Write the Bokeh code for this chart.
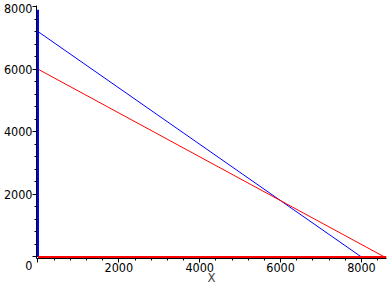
from bokeh.plotting import figure
from bokeh.models import Range1d, FixedTicker
from bokeh.embed import file_html
from bokeh.resources import INLINE

# data
blue_x = [0, 8000]
blue_y = [7200, 0]
red_x = [0, 8571]
red_y = [6000, 0]
blue_axis_x = [0, 0]
blue_axis_y = [0, 7900]
red_axis_x = [0, 8620]
red_axis_y = [0, 0]
x_ticks = [0, 2000, 4000, 6000, 8000]
y_ticks = [0, 2000, 4000, 6000, 8000]
minor = [v for v in range(400, 8800, 400) if v % 2000 != 0]
x_label = "X"

FONT = "'DejaVu Sans Condensed', sans-serif"
FS = "12.5px"

p = figure(width=388, height=288, output_backend="svg", toolbar_location=None,
           x_range=Range1d(-37, 8620), y_range=Range1d(-48, 8032),
           min_border_left=36, min_border_right=2, min_border_top=5, min_border_bottom=30)
p.outline_line_color = None
p.xgrid.visible = False
p.ygrid.visible = False
p.background_fill_color = "white"
p.border_fill_color = "white"

p.line(blue_x, blue_y, line_color="#0000ff", line_width=1)
p.line(red_x, red_y, line_color="#ff0000", line_width=1)
p.line(blue_axis_x, blue_axis_y, line_color="#0000ff", line_width=2)
p.line(red_axis_x, red_axis_y, line_color="#ff0000", line_width=2)

for ax, ticks in ((p.xaxis[0], x_ticks), (p.yaxis[0], y_ticks)):
    ax.ticker = FixedTicker(ticks=ticks, minor_ticks=minor)
    ax.major_tick_out = 4
    ax.major_tick_in = 0
    ax.minor_tick_out = 2
    ax.minor_tick_in = 0
    ax.major_label_standoff = 0
    ax.major_label_text_font = FONT
    ax.major_label_text_font_size = FS
    ax.major_label_text_color = "black"
    ax.axis_line_color = "black"
    ax.major_tick_line_color = "black"
    ax.minor_tick_line_color = "black"

p.xaxis[0].major_label_overrides = {x_ticks[0]: ""}
p.yaxis[0].major_label_overrides = {y_ticks[0]: "\n" + str(y_ticks[0])}
p.xaxis[0].axis_label = x_label
p.xaxis[0].axis_label_text_font = FONT
p.xaxis[0].axis_label_text_font_size = "13px"
p.xaxis[0].axis_label_text_font_style = "normal"
p.xaxis[0].axis_label_standoff = -5

open("out.html", "w").write(file_html(p, INLINE))
